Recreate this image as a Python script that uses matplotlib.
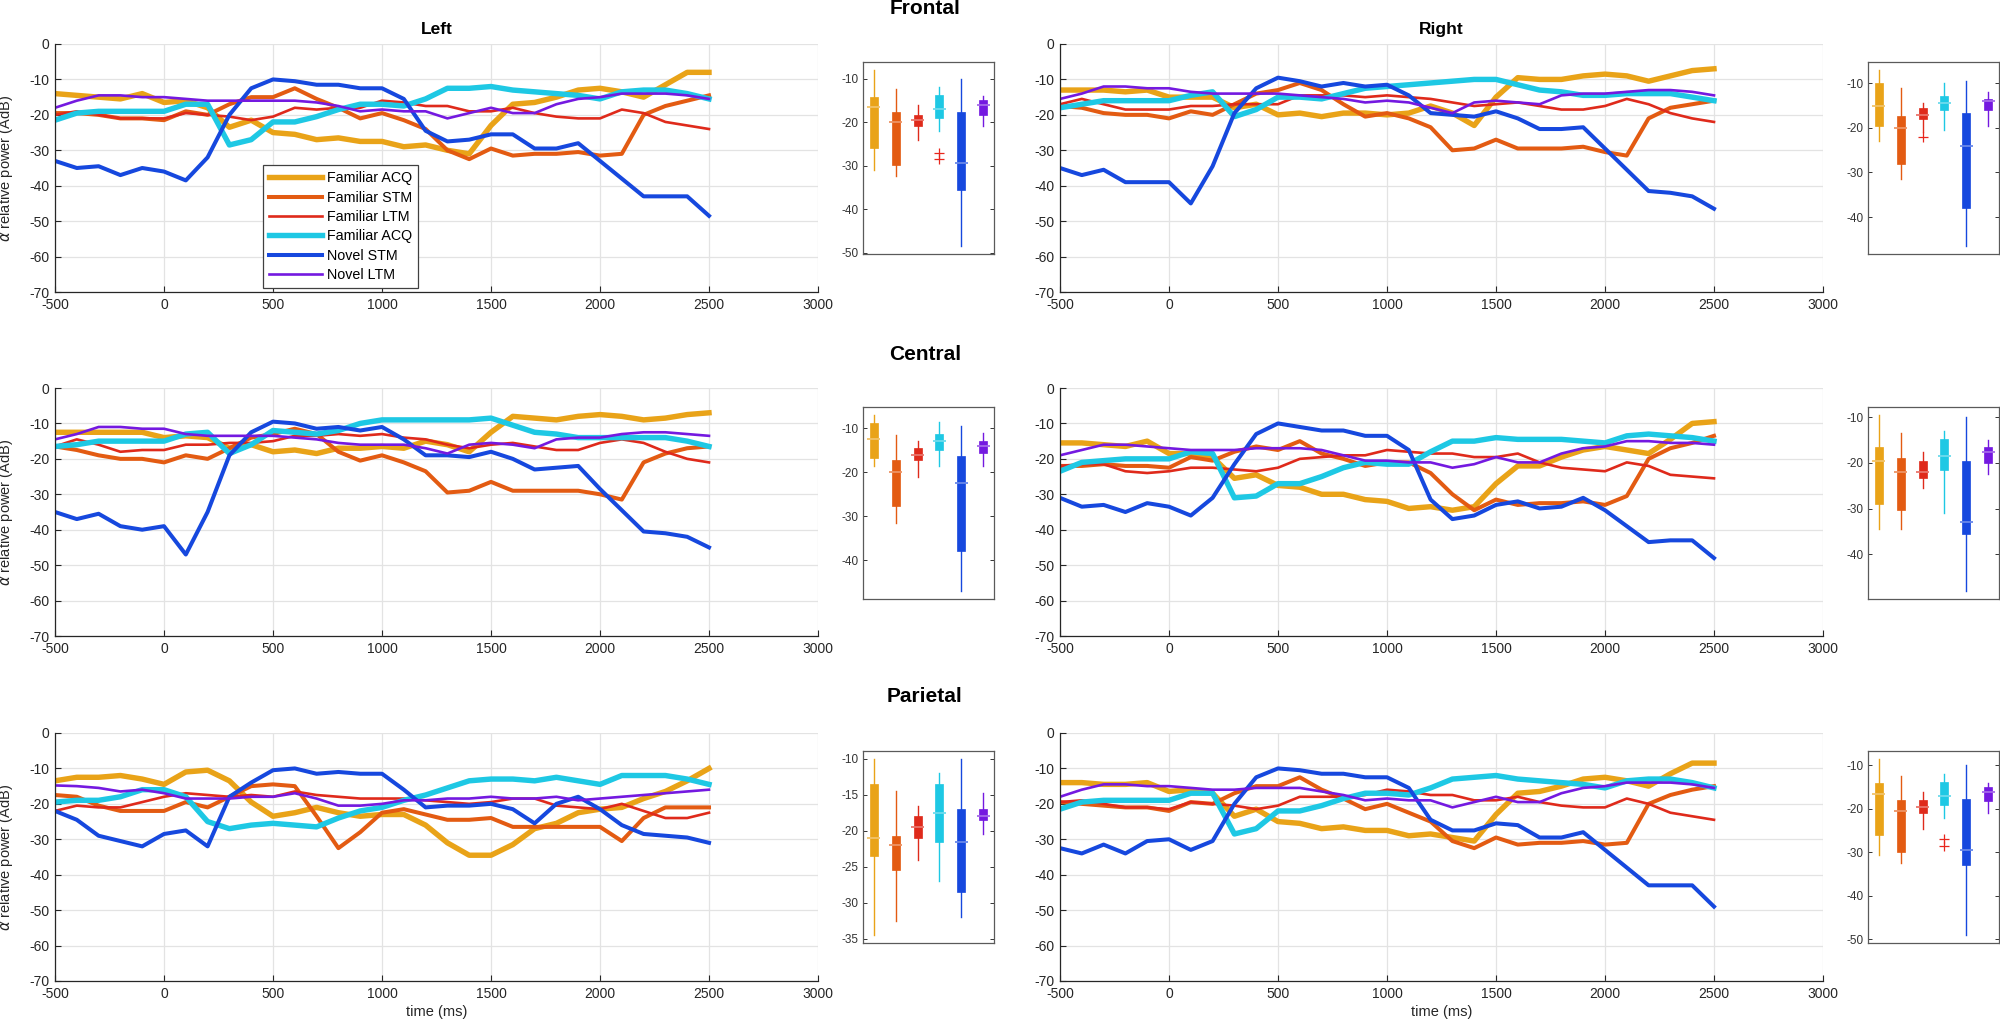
import numpy as np
import matplotlib
matplotlib.use("Agg")
import matplotlib.pyplot as plt
import matplotlib.colors as mcolors

plt.rcParams['font.family'] = ['Liberation Sans', 'DejaVu Sans']
plt.rcParams['axes.unicode_minus'] = False

# ---------------- data ----------------
time_ms = [-500, -400, -300, -200, -100, 0, 100, 200, 300, 400, 500, 600, 700, 800, 900, 1000,
           1100, 1200, 1300, 1400, 1500, 1600, 1700, 1800, 1900, 2000, 2100, 2200, 2300, 2400, 2500]

series_labels = ["Familiar ACQ", "Familiar STM", "Familiar LTM", "Familiar ACQ", "Novel STM", "Novel LTM"]
series_colors = ["#E9A318", "#E35B12", "#DF2A1B", "#1EC8E4", "#1648DE", "#7419E0"]
series_widths = [3.9, 2.9, 1.9, 3.9, 2.9, 1.9]

# Frontal - Left
fl_fam_acq = [-14, -14.5, -15, -15.5, -14, -16.5, -16, -18, -23.5, -21.5, -25, -25.5, -27, -26.5, -27.5, -27.5, -29, -28.5, -30, -31, -23, -17, -16.5, -15, -13, -12.5, -13.5, -15, -11.5, -8, -8]
fl_fam_stm = [-19.5, -19.5, -20, -21, -21, -21.5, -19, -20, -17, -15, -15, -12.5, -15.5, -18, -21, -19.5, -21.5, -24, -30, -32.5, -29.5, -31.5, -31, -31, -30.5, -31.5, -31, -20, -17.5, -16, -14.5]
fl_fam_ltm = [-20, -19, -20, -21, -21, -21, -19.5, -20, -20.5, -21.5, -20.5, -18, -18.5, -18, -18, -16, -16.5, -17.5, -17.5, -19, -19, -18, -19.5, -20.5, -21, -21, -18.5, -19.5, -22, -23, -24]
fl_fam_acq2 = [-21.5, -19.5, -19, -19, -19, -19, -17, -17, -28.5, -27, -22, -22, -20.5, -18.5, -17, -17, -17.5, -15.5, -12.5, -12.5, -12, -13, -13.5, -14, -14.5, -15.5, -13.5, -13, -13, -14, -15.5]
fl_nov_stm = [-33, -35, -34.5, -37, -35, -36, -38.5, -32, -20, -12.5, -10, -10.5, -11.5, -11.5, -12.5, -12.5, -15.5, -24.5, -27.5, -27, -25.5, -25.5, -29.5, -29.5, -28, -33, -38, -43, -43, -43, -48.5]
fl_nov_ltm = [-18, -16, -14.5, -14.5, -15, -15, -15.5, -16, -16, -16, -16, -16, -16.5, -17.5, -19, -18.5, -19, -19, -21, -19.5, -18, -19.5, -19.5, -17, -15.5, -15, -14, -14, -14, -14.5, -15.5]

# Frontal - Right
fr_fam_acq = [-13, -13, -13, -13.5, -13, -15, -15, -15, -18, -17, -20, -19.5, -20.5, -19.5, -19.5, -20, -19.5, -17.5, -19.5, -23, -15, -9.5, -10, -10, -9, -8.5, -9, -10.5, -9, -7.5, -7]
fr_fam_stm = [-17.5, -18, -19.5, -20, -20, -21, -19, -20, -17, -14, -13, -11, -13, -17, -20.5, -19.5, -21, -23.5, -30, -29.5, -27, -29.5, -29.5, -29.5, -29, -30.5, -31.5, -21, -18, -17, -16]
fr_fam_ltm = [-17, -15.5, -17, -18.5, -18.5, -18.5, -17.5, -17.5, -17, -17, -17, -14.5, -14.5, -14.5, -15, -14.5, -15, -15.5, -16.5, -17.5, -17, -16.5, -17.5, -18.5, -18.5, -17.5, -15.5, -17, -19.5, -21, -22]
fr_fam_acq2 = [-18, -17, -16, -16, -16, -16, -14.5, -13.5, -20.5, -18.5, -15, -15, -15.5, -14, -12.5, -12, -11.5, -11, -10.5, -10, -10, -11.5, -13, -13.5, -14.5, -14.5, -14, -14, -14, -15, -16]
fr_nov_stm = [-35, -37, -35.5, -39, -39, -39, -45, -34.5, -19.5, -12.5, -9.5, -10.5, -12, -11, -12, -11.5, -14.5, -19.5, -20, -20.5, -19, -21, -24, -24, -23.5, -29.5, -35.5, -41.5, -42, -43, -46.5]
fr_nov_ltm = [-15.5, -14, -12, -12, -12.5, -12.5, -13.5, -14, -14, -14, -14, -14.5, -15, -15.5, -16.5, -16, -16.5, -18, -19.5, -16.5, -16, -16.5, -17, -14.5, -14, -14, -13.5, -13, -13, -13.5, -14.5]

# Central - Left
cl_fam_acq = [-12.5, -12.5, -12.5, -12.5, -12.5, -14, -13.5, -14, -17, -16, -18, -17.5, -18.5, -17, -17, -16.5, -17, -15, -16, -18, -12.5, -8, -8.5, -9, -8, -7.5, -8, -9, -8.5, -7.5, -7]
cl_fam_stm = [-16.5, -17.5, -19, -20, -20, -21, -19, -20, -17, -14, -13, -11.5, -13, -18, -20.5, -19, -21, -23.5, -29.5, -29, -26.5, -29, -29, -29, -29, -30, -31.5, -21, -18.5, -17, -16.5]
cl_fam_ltm = [-16.5, -14.5, -16, -18, -17.5, -17.5, -16, -16, -15.5, -15.5, -15, -13.5, -13.5, -13, -13.5, -13, -14, -14.5, -16, -17, -16, -15.5, -16.5, -17.5, -17.5, -15.5, -14.5, -15.5, -18, -20, -21]
cl_fam_acq2 = [-16.5, -16, -15, -15, -15, -15, -13, -12.5, -18.5, -16, -12, -12.5, -13, -12, -10, -9, -9, -9, -9, -9, -8.5, -10.5, -12.5, -13, -14, -14, -14, -14, -14, -15, -16.5]
cl_nov_stm = [-35, -37, -35.5, -39, -40, -39, -47, -35, -19, -12.5, -9.5, -10, -11.5, -11, -12, -11, -14.5, -19, -19, -19.5, -18, -20, -23, -22.5, -22, -28.5, -34.5, -40.5, -41, -42, -45]
cl_nov_ltm = [-14.5, -13, -11, -11, -11.5, -11.5, -13, -13.5, -13.5, -13.5, -13.5, -14, -14.5, -15.5, -16, -16, -16, -17, -18.5, -16, -15.5, -16, -17, -14.5, -14, -14, -13, -12.5, -12.5, -13, -13.5]

# Central - Right
cr_fam_acq = [-15.5, -15.5, -16, -16.5, -15, -18.5, -18.5, -19.5, -25.5, -24.5, -27.5, -28, -30, -30, -31.5, -32, -34, -33.5, -34.5, -33.5, -27, -22, -22, -19.5, -17.5, -16.5, -17.5, -18.5, -14.5, -10, -9.5]
cr_fam_stm = [-22, -22, -21.5, -22, -22, -22.5, -19.5, -20.5, -18, -16.5, -17.5, -15, -18.5, -20, -22, -21, -21, -24, -30, -34.5, -31.5, -33, -32.5, -32.5, -32, -33, -30.5, -20, -17, -15.5, -13.5]
cr_fam_ltm = [-22, -21.5, -21.5, -23.5, -24, -23.5, -22.5, -22.5, -23, -23.5, -22.5, -20, -19.5, -19, -19, -17.5, -18, -18.5, -18.5, -19.5, -19.5, -18.5, -21, -22.5, -23, -23.5, -21, -22, -24.5, -25, -25.5]
cr_fam_acq2 = [-23.5, -21, -20.5, -20, -20, -20, -18, -18.5, -31, -30.5, -27, -27, -25, -22.5, -21, -21.5, -21.5, -18, -15, -15, -14, -14.5, -14.5, -14.5, -15, -15.5, -13.5, -13, -13.5, -14, -15]
cr_nov_stm = [-31, -33.5, -33, -35, -32.5, -33.5, -36, -31, -21.5, -13, -10, -11, -12, -12, -13.5, -13.5, -17.5, -31.5, -37, -36, -33, -32, -34, -33.5, -31, -34.5, -39, -43.5, -43, -43, -48]
cr_nov_ltm = [-19, -17.5, -16, -16, -16.5, -17, -17.5, -17.5, -17.5, -17, -17, -17, -17.5, -19, -20.5, -20.5, -21, -21, -22.5, -21.5, -19.5, -21, -21, -18.5, -17, -16.5, -15, -15, -15.5, -15.5, -16]

# Parietal - Left
pl_fam_acq = [-13.5, -12.5, -12.5, -12, -13, -14.5, -11, -10.5, -13.5, -19.5, -23.5, -22.5, -21, -22.5, -23.5, -23, -23, -26, -31, -34.5, -34.5, -31.5, -27, -25.5, -22.5, -21.5, -21, -18.5, -16.5, -13.5, -10]
pl_fam_stm = [-17.5, -18, -20.5, -22, -22, -22, -19.5, -21, -18, -15, -14.5, -15, -23.5, -32.5, -28, -22.5, -21.5, -23, -24.5, -24.5, -24, -26.5, -26.5, -26.5, -26.5, -26.5, -30.5, -24, -21, -21, -21]
pl_fam_ltm = [-22, -20.5, -21, -21, -19.5, -18, -17, -17.5, -18, -17.5, -18, -16.5, -17.5, -18, -18.5, -18.5, -18.5, -19, -19.5, -20, -19.5, -18.5, -18.5, -20.5, -21, -21.5, -20, -22, -24, -24, -22.5]
pl_fam_acq2 = [-19.5, -19, -19, -18, -16, -16, -18, -25, -27, -26, -25.5, -26, -26.5, -24, -22, -21, -19, -17.5, -15.5, -13.5, -13, -13, -13.5, -12.5, -13.5, -14.5, -12, -12, -12, -13, -14.5]
pl_nov_stm = [-22, -24.5, -29, -30.5, -32, -28.5, -27.5, -32, -18, -14, -10.5, -10, -11.5, -11, -11.5, -11.5, -16, -21, -20.5, -20.5, -20, -21.5, -25.5, -20, -18, -21.5, -26, -28.5, -29, -29.5, -31]
pl_nov_ltm = [-14.8, -15, -15.5, -16.5, -16, -17, -18.5, -18.5, -18.5, -18, -18, -17, -18.5, -20.5, -20.5, -20, -19, -19, -18.5, -18.5, -18, -18.5, -18.5, -18, -19, -18.5, -18, -17.5, -17, -16.5, -16]

# Parietal - Right
pr_fam_acq = [-14, -14, -14.5, -14.5, -14, -16.5, -16, -17, -23.5, -21.5, -25, -25.5, -27, -26.5, -27.5, -27.5, -29, -28.5, -29.5, -30.5, -23, -17, -16.5, -15, -13, -12.5, -13.5, -15, -11.5, -8.5, -8.5]
pr_fam_stm = [-19.5, -20, -20.5, -21, -21, -22, -19.5, -20, -17, -15, -15, -12.5, -16, -18.5, -21.5, -20, -22.5, -25, -30.5, -32.5, -29.5, -31.5, -31, -31, -30.5, -31.5, -31, -20, -17.5, -16, -15]
pr_fam_ltm = [-19.5, -19, -20, -21, -21, -21.5, -19.5, -20, -20.5, -21.5, -20.5, -18, -18, -18, -17.5, -16, -16.5, -17.5, -17.5, -19, -19, -18, -19.5, -20.5, -21, -21, -18.5, -20, -22.5, -23.5, -24.5]
pr_fam_acq2 = [-21.5, -19.5, -19, -19, -19, -19, -17, -17, -28.5, -27, -22, -22, -20.5, -18.5, -17, -17, -17.5, -15.5, -13, -12.5, -12, -13, -13.5, -14, -14.5, -15.5, -13.5, -13, -13, -14, -15.5]
pr_nov_stm = [-32.5, -34, -31.5, -34, -30.5, -30, -33, -30.5, -20, -12.5, -10, -10.5, -11.5, -11.5, -12.5, -12.5, -15.5, -24.5, -27.5, -27.5, -25.5, -26, -29.5, -29.5, -28, -33, -38, -43, -43, -43, -49]
pr_nov_ltm = [-18, -16, -14.5, -14.5, -15, -15, -15.5, -16, -16, -15.5, -15.5, -15.5, -16.5, -17.5, -19, -18.5, -19, -19, -21, -19.5, -18, -19.5, -19.5, -17, -15.5, -15, -14, -14, -14, -14.5, -15.5]

row_titles = ["Frontal", "Central", "Parietal"]
col_titles = ["Left", "Right"]
x_ticks = [-500, 0, 500, 1000, 1500, 2000, 2500, 3000]
y_ticks = [-70, -60, -50, -40, -30, -20, -10, 0]

panels = [
    [[fl_fam_acq, fl_fam_stm, fl_fam_ltm, fl_fam_acq2, fl_nov_stm, fl_nov_ltm],
     [fr_fam_acq, fr_fam_stm, fr_fam_ltm, fr_fam_acq2, fr_nov_stm, fr_nov_ltm]],
    [[cl_fam_acq, cl_fam_stm, cl_fam_ltm, cl_fam_acq2, cl_nov_stm, cl_nov_ltm],
     [cr_fam_acq, cr_fam_stm, cr_fam_ltm, cr_fam_acq2, cr_nov_stm, cr_nov_ltm]],
    [[pl_fam_acq, pl_fam_stm, pl_fam_ltm, pl_fam_acq2, pl_nov_stm, pl_nov_ltm],
     [pr_fam_acq, pr_fam_stm, pr_fam_ltm, pr_fam_acq2, pr_nov_stm, pr_nov_ltm]],
]

# ---------------- layout ----------------
W, H = 2000, 1030
fig = plt.figure(figsize=(W / 100, H / 100), dpi=100)

AX_COL = "#262626"

def lighten(c, a):
    r, g, b = mcolors.to_rgb(c)
    return (r + (1 - r) * a, g + (1 - g) * a, b + (1 - b) * a)

line_x = [55, 1060]
line_w = 763
box_x = [863, 1868]
box_w = 131
row_line_top = [44, 388, 733]
row_box_top = [62, 407, 751]
line_h = 248
box_h = 192
row_title_y = [9, 354, 697]

for r in range(3):
    for c in range(2):
        series = panels[r][c]
        # line axes
        ax = fig.add_axes([line_x[c] / W, 1 - (row_line_top[r] + line_h) / H, line_w / W, line_h / H])
        for vals, col, lw, lab in zip(series, series_colors, series_widths, series_labels):
            ax.plot(time_ms, vals, color=col, lw=lw, label=lab, solid_joinstyle='round')
        ax.set_xlim(-500, 3000)
        ax.set_ylim(-70, 0)
        ax.set_xticks(x_ticks)
        ax.set_yticks(y_ticks)
        ax.grid(True, color="#e3e3e3", lw=0.9)
        ax.set_axisbelow(True)
        for s in ["top", "right"]:
            ax.spines[s].set_visible(False)
        for s in ["left", "bottom"]:
            ax.spines[s].set_color(AX_COL)
            ax.spines[s].set_linewidth(0.9)
        ax.tick_params(direction="in", length=4, width=0.8, colors=AX_COL, labelsize=10, pad=4)
        if c == 0:
            ax.set_ylabel(r"$\alpha$ relative power (AdB)", fontsize=10.5, color=AX_COL, labelpad=10)
        if r == 0:
            ax.set_title(col_titles[c], fontsize=12.5, fontweight="bold", pad=7)
        if r == 2:
            ax.set_xlabel("time (ms)", fontsize=10.5, color=AX_COL, labelpad=3)
        if r == 0 and c == 0:
            leg = ax.legend(loc="lower left", bbox_to_anchor=(0.2726, 0.016), borderaxespad=0,
                            fontsize=10.3, handlelength=3.7, handletextpad=0.35, labelspacing=0.38,
                            borderpad=0.4, fancybox=False, framealpha=1, edgecolor="#404040")
            leg.get_frame().set_linewidth(0.9)

        # box axes
        bx = fig.add_axes([box_x[c] / W, 1 - (row_box_top[r] + box_h) / H, box_w / W, box_h / H])
        positions = list(range(1, len(series) + 1))
        bp = bx.boxplot(series, positions=positions, widths=0.36, patch_artist=True,
                        whis=1.5, showcaps=False,
                        flierprops=dict(marker="+", markeredgecolor="#E8261C", markersize=7,
                                        markeredgewidth=0.9, linestyle="none"))
        for i, col in enumerate(series_colors):
            bp["boxes"][i].set_facecolor(col)
            bp["boxes"][i].set_edgecolor(col)
            bp["boxes"][i].set_linewidth(0.5)
            for w in bp["whiskers"][2 * i:2 * i + 2]:
                w.set_color(col)
                w.set_linewidth(1.0)
                w.set_linestyle("-")
            med = bp["medians"][i]
            med.set_color(lighten(col, 0.35))
            med.set_linewidth(1.3)
            med.set_xdata([positions[i] - 0.3, positions[i] + 0.3])
        allv = np.concatenate([np.asarray(v, float) for v in series])
        lo, hi = allv.min(), allv.max()
        pad = (hi - lo) * 0.045
        bx.set_ylim(lo - pad, hi + pad)
        bx.set_xlim(0.5, 6.5)
        bx.set_xticks([])
        bx.yaxis.set_major_locator(matplotlib.ticker.MaxNLocator(nbins=6, steps=[1, 2, 5, 10]))
        bx.tick_params(axis="y", direction="in", length=3, width=0.7, colors="#333333",
                       labelsize=8.5, left=True, right=True, pad=3)
        for s in bx.spines.values():
            s.set_color("#5a5a5a")
            s.set_linewidth(0.9)

    fig.text(925 / W, 1 - row_title_y[r] / H, row_titles[r], fontsize=15, fontweight="bold",
             ha="center", va="center")

fig.savefig("out.png", dpi=100)
